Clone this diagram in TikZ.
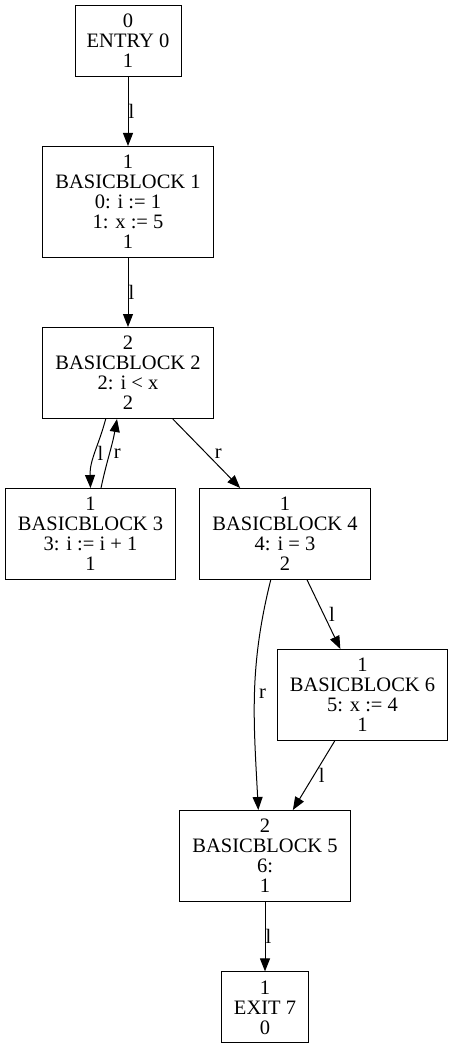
\documentclass[tikz,border=0pt]{standalone}
\usepackage{fontspec}
\setmainfont{Liberation Serif}
\usetikzlibrary{arrows.meta}
\usetikzlibrary{positioning}
\tikzset{
    block/.style={
        rectangle,
        draw=black,
        line width=1pt,
        align=center,
        inner sep=0pt,
        minimum width=170.5pt,
        minimum height=91pt,
        font=\fontsize{20.5}{20}\selectfont
    },
    term/.style={block, minimum width=106pt, minimum height=71pt},
    arrow/.style={
        ->,
        >={Triangle[length=13pt,width=10pt]},
        line width=1pt,
        draw=black
    },
    lab/.style={inner sep=0pt, font=\fontsize{20.5}{20}\selectfont}
}

\begin{document}
\begin{tikzpicture}
        \useasboundingbox (0,0) rectangle (453pt,-1043pt);

        % Entry
        \node (entry) [term] at (128pt,-41pt) {0\\ENTRY 0\\1};

        % Basic block 1
        \node (bb1) [block, minimum height=111pt, below=69pt of entry] {1\\BASICBLOCK 1\\0: i := 1\\1: x := 5\\1};

        % Basic block 2
        \node (bb2) [block, below=69pt of bb1] {2\\BASICBLOCK 2\\2: i < x\\2};

        % Basic blocks 3 and 4
        \node (bb3) [block, below=69pt of bb2, xshift=-37.5pt] {1\\BASICBLOCK 3\\3: i := i + 1\\1};
        \node (bb4) [block, below=69pt of bb2, xshift=157pt] {1\\BASICBLOCK 4\\4: i = 3\\2};

        % Basic block 6
        \node (bb6) [block, below=69pt of bb4, xshift=77.5pt] {1\\BASICBLOCK 6\\5: x := 4\\1};

        % Basic block 5
        \node (bb5) [block, below=69pt of bb6, xshift=-97.5pt] {2\\BASICBLOCK 5\\6:\\1};

        % Exit
        \node (exit) [term, minimum width=86.7pt, below=69.4pt of bb5] {1\\EXIT 7\\0};

        % Arrows
        \draw [arrow] (entry) -- node [lab, right=0pt] {l} (bb1);
        \draw [arrow] (bb1) -- node [lab, right=0pt] {l} (bb2);
        \draw [arrow] ([xshift=-22.3pt]bb2.south) to[out=-105, in=92] node [lab, right=2pt] {l} (bb3.north);
        \draw [arrow] ([xshift=10.5pt]bb3.north) to[out=78, in=-100] node [lab, right=4pt] {r} ([xshift=-11pt]bb2.south);
        \draw [arrow] (bb2) -- node [lab, right=8pt] {r} (bb4);
        \draw [arrow] (bb4) -- node [lab, right=5pt] {l} (bb6);
        \draw [arrow] ([xshift=-14.3pt]bb4.south) to[out=-104, in=93] node [lab, right=4pt] {r} ([xshift=-6.7pt]bb5.north);
        \draw [arrow] (bb6) -- node [lab, right=4.5pt] {l} (bb5);
        \draw [arrow] (bb5) -- node [lab, right=0pt] {l} (exit);

    \end{tikzpicture}
\end{document}
